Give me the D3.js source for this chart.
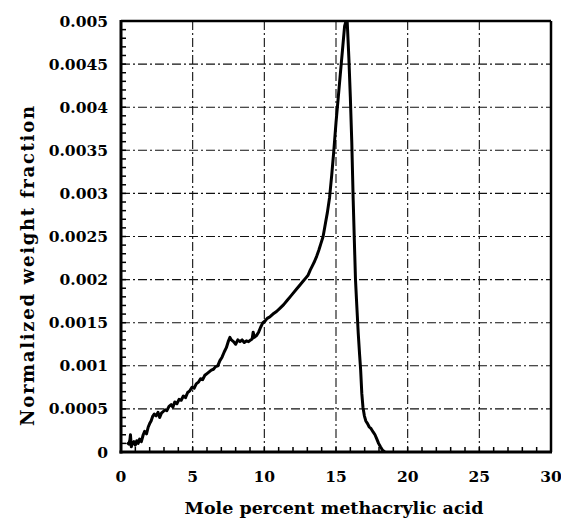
<!DOCTYPE html>
<html>
<head>
<meta charset="utf-8">
<script src="https://cdn.jsdelivr.net/npm/d3@7"></script>
<style>
  html, body { margin: 0; padding: 0; background: #fff; }
  svg { display: block; }
  text { font-family: "DejaVu Serif", "Liberation Serif", serif; font-weight: bold; fill: #000; }
</style>
</head>
<body>
<svg id="chart" width="561" height="524"></svg>
<script>
// Composition distribution: mole percent methacrylic acid vs normalized weight fraction
const molePercent = [
  0.42, 0.55, 0.62, 0.66, 0.72, 0.8, 0.9, 1.0, 1.1, 1.2, 1.3, 1.42, 1.55, 1.65, 1.78, 1.9,
  2.0, 2.1, 2.2, 2.32, 2.45, 2.58, 2.7, 2.82, 2.95, 3.08, 3.2, 3.35, 3.5, 3.62, 3.75, 3.9,
  4.05, 4.2, 4.35, 4.5, 4.65, 4.8, 4.95, 5.1, 5.25, 5.4, 5.55, 5.7, 5.85, 6.0, 6.15, 6.3,
  6.45, 6.6, 6.75, 6.9, 7.05, 7.2, 7.35, 7.5, 7.6, 7.7, 7.85, 8.0, 8.15, 8.3, 8.45, 8.6,
  8.75, 8.9, 9.05, 9.15, 9.22, 9.3, 9.45, 9.6, 9.75, 9.9, 10.05, 10.2, 10.4, 10.6, 10.85,
  11.1, 11.35, 11.6, 11.8, 12.0, 12.25, 12.5, 12.7, 12.9, 13.05, 13.2, 13.35, 13.5, 13.65,
  13.8, 13.95, 14.1, 14.27, 14.4, 14.55, 14.7, 14.85, 15.0, 15.15, 15.3, 15.45, 15.6, 15.7,
  15.78, 15.9, 16.0, 16.1, 16.2, 16.28, 16.36, 16.45, 16.55, 16.65, 16.72, 16.8, 16.88,
  16.98, 17.08, 17.2, 17.32, 17.45, 17.6, 17.72, 17.85, 17.97, 18.1, 18.25, 18.4
];
const weightFraction = [
  0.00011, 0.00009, 0.00014, 0.0002, 0.00006, 0.0001, 0.00012, 0.00008, 0.00013, 0.0001,
  0.00015, 0.00012, 0.0002, 0.00024, 0.00021, 0.00029,
  0.00033, 0.00036, 0.00041, 0.00044, 0.00042, 0.00046, 0.0004, 0.00045, 0.00047, 0.00049,
  0.00048, 0.00053, 0.00055, 0.00052, 0.00058, 0.00056,
  0.00061, 0.0006, 0.00065, 0.00063, 0.00069, 0.00071, 0.00075, 0.00074, 0.00079, 0.00081,
  0.00085, 0.00084, 0.00089, 0.00091, 0.00093, 0.00095,
  0.00096, 0.00099, 0.001, 0.00106, 0.0011, 0.00116, 0.00121, 0.00129, 0.00133, 0.0013,
  0.00128, 0.00125, 0.0013, 0.00128, 0.0013, 0.00127,
  0.00129, 0.00128, 0.0013, 0.00131, 0.00139, 0.00133, 0.00135, 0.00139, 0.00145, 0.0015,
  0.00152, 0.00155, 0.00157, 0.0016, 0.00163,
  0.00167, 0.00171, 0.00176, 0.0018, 0.00184, 0.00189, 0.00194, 0.00198, 0.00202, 0.00205,
  0.00211, 0.00216, 0.00221, 0.00227,
  0.00234, 0.00242, 0.0025, 0.00266, 0.00278, 0.00295, 0.00321, 0.0035, 0.00382, 0.0041,
  0.00438, 0.00466, 0.00494, 0.005,
  0.005, 0.00456, 0.00412, 0.0036, 0.00292, 0.00245, 0.002, 0.0017, 0.00138, 0.00112,
  0.00095, 0.00068, 0.00052,
  0.00042, 0.00036, 0.00033, 0.00029, 0.00027, 0.00023, 0.0002, 0.00015, 0.0001, 0.00006,
  0.00002, 0
];

const xTicks = [0, 5, 10, 15, 20, 25, 30];
const yTicks = [0, 0.0005, 0.001, 0.0015, 0.002, 0.0025, 0.003, 0.0035, 0.004, 0.0045, 0.005];
const yTickLabels = ["0", "0.0005", "0.001", "0.0015", "0.002", "0.0025", "0.003", "0.0035", "0.004", "0.0045", "0.005"];
const xMinorTicks = d3.range(0, 31, 1);
const yMinorTicks = d3.range(0, 51, 1).map(d => d / 10000);

const xTitle = "Mole percent methacrylic acid";
const yTitle = "Normalized weight fraction";

const svg = d3.select("#chart");
const plot = { left: 121, right: 551, top: 21, bottom: 452 };

const x = d3.scaleLinear().domain([0, 30]).range([plot.left, plot.right]);
const y = d3.scaleLinear().domain([0, 0.005]).range([plot.bottom, plot.top]);

// Dash-dot grid
const grid = svg.append("g").attr("stroke", "#111").attr("stroke-width", 1.1)
  .attr("stroke-dasharray", "9,3,2,3");
grid.selectAll("line.v").data(xTicks.slice(1, -1)).join("line")
  .attr("x1", d => x(d)).attr("x2", d => x(d))
  .attr("y1", plot.top).attr("y2", plot.bottom);
grid.selectAll("line.h").data(yTicks.slice(1, -1)).join("line")
  .attr("y1", d => y(d)).attr("y2", d => y(d))
  .attr("x1", plot.left).attr("x2", plot.right);

// Inward minor ticks along left and bottom axes
const ticks = svg.append("g").attr("stroke", "#000").attr("stroke-width", 1.5);
ticks.selectAll("line.ym").data(yMinorTicks).join("line")
  .attr("x1", plot.left).attr("x2", plot.left + 5)
  .attr("y1", d => y(d)).attr("y2", d => y(d));
ticks.selectAll("line.xm").data(xMinorTicks).join("line")
  .attr("y1", plot.bottom).attr("y2", plot.bottom - 5)
  .attr("x1", d => x(d)).attr("x2", d => x(d));

// Curve, clipped to the plot frame
svg.append("clipPath").attr("id", "clip").append("rect")
  .attr("x", plot.left).attr("y", plot.top)
  .attr("width", plot.right - plot.left).attr("height", plot.bottom - plot.top);

const line = d3.line().x(d => x(d[0])).y(d => y(d[1]));
svg.append("path")
  .datum(molePercent.map((m, i) => [m, weightFraction[i]]))
  .attr("clip-path", "url(#clip)")
  .attr("fill", "none").attr("stroke", "#000").attr("stroke-width", 3)
  .attr("stroke-linejoin", "round")
  .attr("d", line);

// Frame
svg.append("line").attr("x1", plot.left).attr("x2", plot.right)
  .attr("y1", plot.top).attr("y2", plot.top).attr("stroke", "#000").attr("stroke-width", 2.5);
svg.append("line").attr("x1", plot.right).attr("x2", plot.right)
  .attr("y1", plot.top).attr("y2", plot.bottom).attr("stroke", "#000").attr("stroke-width", 2.5);
svg.append("line").attr("x1", plot.left).attr("x2", plot.left)
  .attr("y1", plot.top - 1).attr("y2", plot.bottom + 1.5).attr("stroke", "#000").attr("stroke-width", 3);
svg.append("line").attr("x1", plot.left - 1.5).attr("x2", plot.right + 1)
  .attr("y1", plot.bottom).attr("y2", plot.bottom).attr("stroke", "#000").attr("stroke-width", 3);

// Tick labels
svg.append("g").selectAll("text").data(xTicks).join("text")
  .attr("x", d => x(d)).attr("y", 482)
  .attr("text-anchor", "middle").attr("font-size", 15.5)
  .text(d => d);
svg.append("g").selectAll("text").data(yTicks).join("text")
  .attr("x", 108).attr("y", d => y(d)).attr("dy", "0.36em")
  .attr("text-anchor", "end").attr("font-size", 15.5)
  .text((d, i) => yTickLabels[i]);

// Axis titles
svg.append("text").attr("x", 334).attr("y", 514)
  .attr("text-anchor", "middle").attr("font-size", 17.5).text(xTitle);
svg.append("text").attr("transform", "translate(34,266) rotate(-90)")
  .attr("text-anchor", "middle").attr("font-size", 18)
  .attr("textLength", 320).attr("lengthAdjust", "spacing")
  .text(yTitle);
</script>
</body>
</html>
